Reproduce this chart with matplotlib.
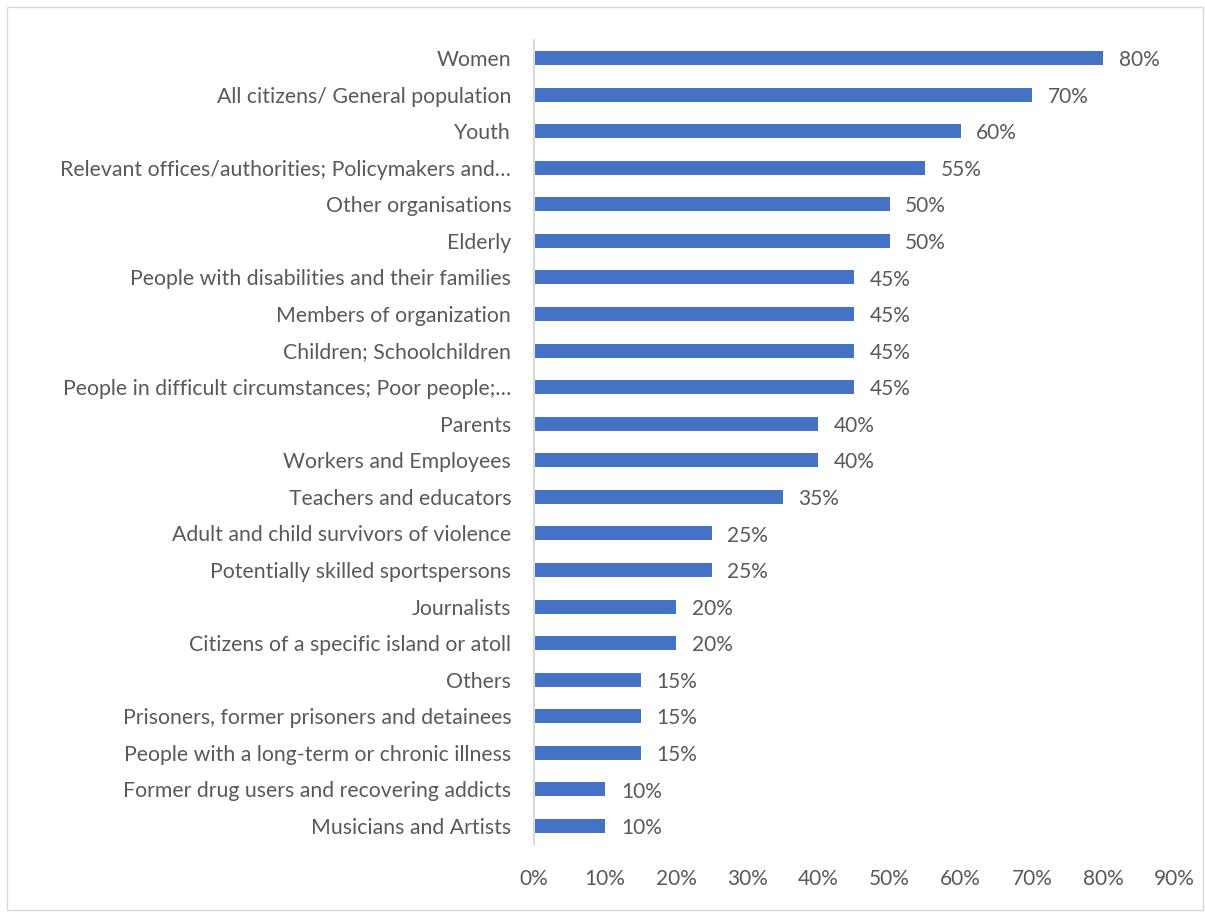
import matplotlib

matplotlib.use("Agg")
import matplotlib.pyplot as plt
from matplotlib.patches import Rectangle
from matplotlib.ticker import FuncFormatter

plt.rcParams["font.family"] = ["Lato", "DejaVu Sans"]

# categories from top to bottom, as shown in the chart
categories = [
    "Women",
    "All citizens/ General population",
    "Youth",
    "Relevant offices/authorities; Policymakers and\u2026",
    "Other organisations",
    "Elderly",
    "People with disabilities and their families",
    "Members of organization",
    "Children; Schoolchildren",
    "People in difficult circumstances; Poor people;\u2026",
    "Parents",
    "Workers and Employees",
    "Teachers and educators",
    "Adult and child survivors of violence",
    "Potentially skilled sportspersons",
    "Journalists",
    "Citizens of a specific island or atoll",
    "Others",
    "Prisoners, former prisoners and detainees",
    "People with a long-term or chronic illness",
    "Former drug users and recovering addicts",
    "Musicians and Artists",
]
shares = [0.80, 0.70, 0.60, 0.55, 0.50, 0.50, 0.45, 0.45, 0.45, 0.45, 0.40,
          0.40, 0.35, 0.25, 0.25, 0.20, 0.20, 0.15, 0.15, 0.15, 0.10, 0.10]
x_ticks = [0.0, 0.1, 0.2, 0.3, 0.4, 0.5, 0.6, 0.7, 0.8, 0.9]

BAR = "#4472C4"
INK = "#595959"

fig = plt.figure(figsize=(12.05, 9.17), dpi=100)
ax = fig.add_axes([0.4432, 0.0793, 0.5311, 0.8774])

ypos = list(range(len(categories)))
ax.barh(ypos, shares, height=0.38, color=BAR)
for y, v in zip(ypos, shares):
    ax.text(v + 0.022, y + 0.06, f"{v:.0%}", va="center", ha="left",
            fontsize=15, color=INK)

ax.set_yticks(ypos)
ax.set_yticklabels(categories, fontsize=15.3, color=INK)
ax.set_ylim(len(categories) - 0.5, -0.5)
ax.set_xlim(0, 0.9)
ax.set_xticks(x_ticks)
ax.xaxis.set_major_formatter(FuncFormatter(lambda v, _: f"{v:.0%}"))
ax.tick_params(axis="x", labelsize=15, labelcolor=INK, length=0, pad=18)
ax.tick_params(axis="y", length=0, pad=16.5)

for s in ("top", "right", "bottom"):
    ax.spines[s].set_visible(False)
ax.spines["left"].set_color("#D9D9D9")
ax.spines["left"].set_linewidth(1.5)

# chart-area border
fig.patches.append(Rectangle((7 / 1205, 1 - 910 / 917), 1196 / 1205, 903 / 917,
                             transform=fig.transFigure, fill=False,
                             edgecolor="#D9D9D9", linewidth=1))

fig.savefig("out.png", dpi=100)
